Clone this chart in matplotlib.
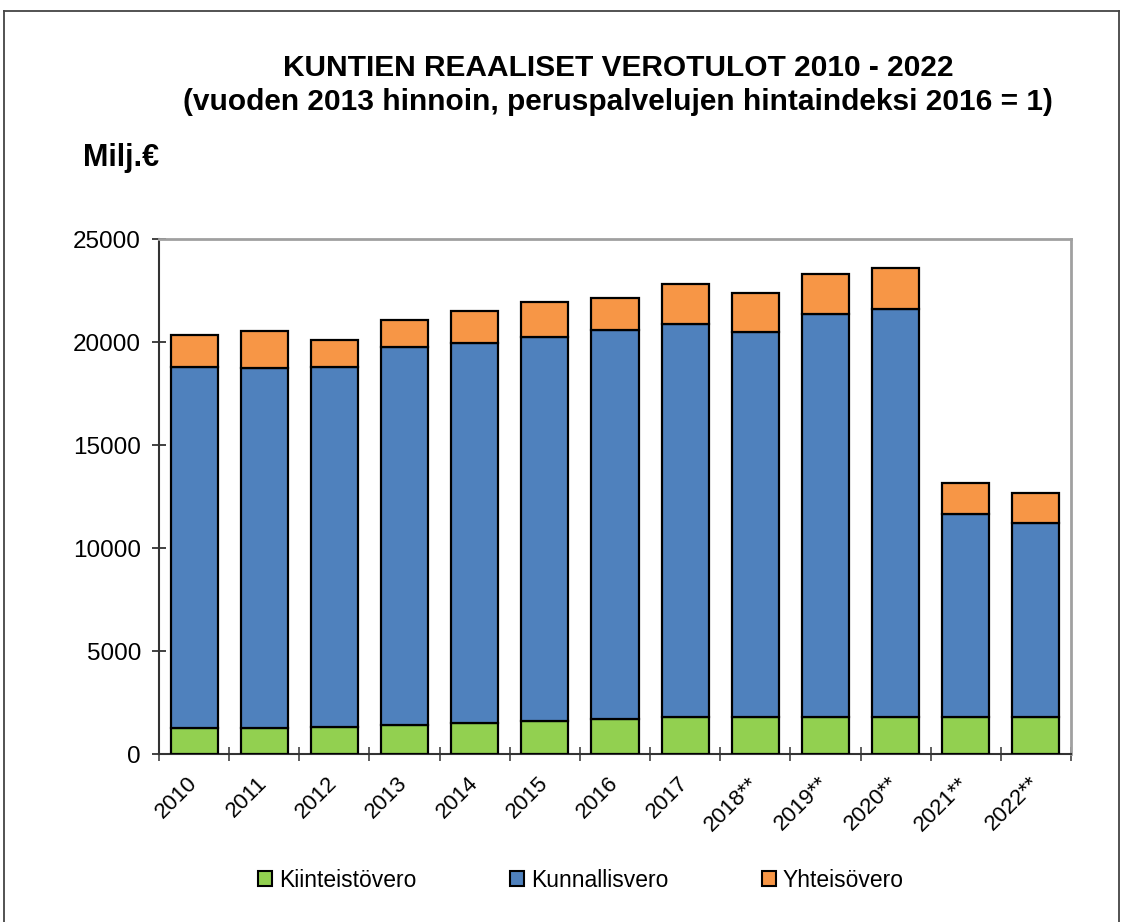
import numpy as np
import matplotlib
matplotlib.use("Agg")
import matplotlib.pyplot as plt
from matplotlib.patches import Patch
from matplotlib.lines import Line2D

plt.rcParams['font.family'] = ['Liberation Sans', 'DejaVu Sans']

# data (Milj.€, 2013 prices)
years = ['2010', '2011', '2012', '2013', '2014', '2015', '2016', '2017',
         '2018**', '2019**', '2020**', '2021**', '2022**']
kiinteistovero = [1260, 1250, 1320, 1390, 1500, 1610, 1680, 1790, 1800, 1800, 1800, 1800, 1800]
kunnallisvero = [17540, 17470, 17480, 18350, 18470, 18650, 18890, 19070, 18700, 19560, 19790, 9850, 9400]
yhteisovero = [1525, 1810, 1310, 1330, 1520, 1690, 1550, 1940, 1880, 1960, 2020, 1520, 1485]

series_names = ['Kiinteistövero', 'Kunnallisvero', 'Yhteisövero']
colors = ['#92D050', '#4F81BD', '#F79646']

fig = plt.figure(figsize=(11.22, 9.22), dpi=100)
ax = fig.add_axes([159 / 1122, 1 - 754 / 922, (1071 - 159) / 1122, (754 - 239) / 922])

x = np.arange(len(years))
w = 0.67
bottom = np.zeros(len(years))
for vals, col in zip([kiinteistovero, kunnallisvero, yhteisovero], colors):
    ax.bar(x, vals, w, bottom=bottom, color=col, edgecolor='black', linewidth=1.6, zorder=3)
    bottom += np.array(vals)

ax.set_xlim(-0.5, len(years) - 0.5)
ax.set_ylim(0, 25000)
ax.set_yticks(np.arange(0, 25001, 5000))

# category labels centred, tick marks between categories
ax.set_xticks(x)
ax.set_xticklabels(years, rotation=45, ha='right', va='center',
                   rotation_mode='anchor', fontsize=16)
ax.set_xticks(np.arange(-0.5, len(years)), minor=True)
ax.tick_params(axis='x', which='major', length=0, pad=19)
ax.tick_params(axis='x', which='minor', direction='inout', length=10, width=1.1, color='#333333')
ax.tick_params(axis='y', direction='inout', length=10, width=1.3, color='#333333',
               labelsize=17.5, pad=8)

for s in ['top', 'right']:
    ax.spines[s].set_color('#a0a0a0')
    ax.spines[s].set_linewidth(2)
for s in ['left', 'bottom']:
    ax.spines[s].set_color('#333333')
    ax.spines[s].set_linewidth(1.5)

fig.text(0.551, 1 - 68 / 922, 'KUNTIEN REAALISET VEROTULOT 2010 - 2022',
         ha='center', va='center', fontsize=21.5, fontweight='bold')
fig.text(0.551, 1 - 102 / 922, '(vuoden 2013 hinnoin, peruspalvelujen hintaindeksi 2016 = 1)',
         ha='center', va='center', fontsize=21.5, fontweight='bold')
fig.text(83 / 1122, 1 - 158 / 922, 'Milj.€', ha='left', va='center',
         fontsize=22, fontweight='bold')

handles = [Patch(facecolor=c, edgecolor='black', linewidth=1.5) for c in colors]
fig.legend(handles, series_names, loc='center', bbox_to_anchor=(0.518, 1 - 880 / 922),
           ncol=3, frameon=False, fontsize=16.5, handlelength=0.6, handleheight=0.6,
           handletextpad=0.3, columnspacing=4.1)

# outer frame (bottom edge lies outside the picture)
for xs, ys in [([4 / 1122, 4 / 1122], [0, 1 - 11 / 922]),
               ([4 / 1122, 1119 / 1122], [1 - 11 / 922, 1 - 11 / 922]),
               ([1119 / 1122, 1119 / 1122], [0, 1 - 11 / 922])]:
    fig.add_artist(Line2D(xs, ys, color='#444444', linewidth=1.3, transform=fig.transFigure))

fig.savefig('out.png', dpi=100)
